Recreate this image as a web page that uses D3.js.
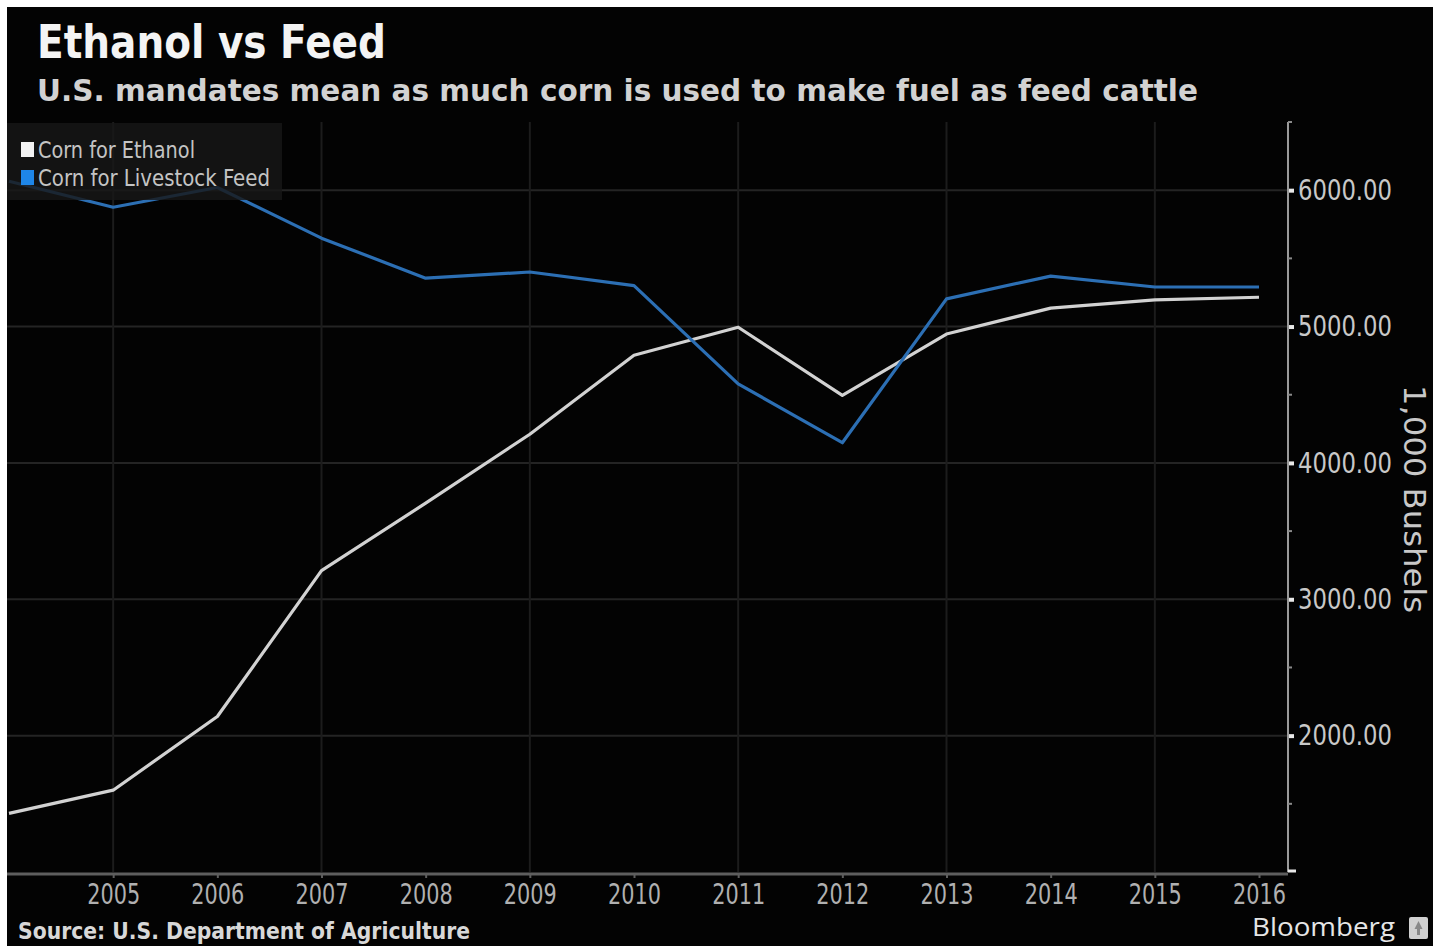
<!DOCTYPE html>
<html>
<head>
<meta charset="utf-8">
<script src="https://cdn.jsdelivr.net/npm/d3@7"></script>
<style>
  html, body { margin: 0; padding: 0; background: #fff; }
  svg { display: block; }
</style>
</head>
<body>
<svg id="chart" width="1439" height="946"></svg>
<script>
// ---- data ----
const years = [2004, 2005, 2006, 2007, 2008, 2009, 2010, 2011, 2012, 2013, 2014, 2015, 2016];
const ethanol = [1430, 1600, 2140, 3210, 3705, 4210, 4790, 4995, 4495, 4945, 5135, 5195, 5215];
const feed = [6065, 5875, 6020, 5648, 5355, 5400, 5300, 4580, 4148, 5203, 5370, 5290, 5290];
const seriesNames = ["Corn for Ethanol", "Corn for Livestock Feed"];
const seriesColors = ["#d2d2d2", "#2c6fb4"];
const legendColors = ["#f2f2f2", "#1e86e8"];
const yTicks = [2000, 3000, 4000, 5000, 6000];
const yMinorTicks = [1500, 2500, 3500, 4500, 5500, 6500];
const xTicks = [2005, 2006, 2007, 2008, 2009, 2010, 2011, 2012, 2013, 2014, 2015, 2016];
const xGridYears = [2005, 2007, 2009, 2011, 2013, 2015];
const titleText = "Ethanol vs Feed";
const subtitleText = "U.S. mandates mean as much corn is used to make fuel as feed cattle";
const sourceText = "Source: U.S. Department of Agriculture";
const yAxisTitle = "1,000 Bushels";

const svg = d3.select("#chart");
const narrow = "'Liberation Sans Narrow', 'DejaVu Sans Condensed', 'Arial Narrow', sans-serif";
const bold = "'DejaVu Sans', Verdana, sans-serif";

// background: white frame + black panel
svg.append("rect").attr("x", 7).attr("y", 7).attr("width", 1426).attr("height", 939).attr("fill", "#030303");

const x = d3.scaleLinear().domain([2004, 2016]).range([9, 1259]);
const y = d3.scaleLinear().domain([1000, 6500]).range([872, 122]);
const plotLeft = 7, plotRight = 1288;

const g = svg.append("g");

// horizontal grid
g.append("g").selectAll("line").data(yTicks).join("line")
  .attr("x1", plotLeft).attr("x2", plotRight)
  .attr("y1", d => y(d)).attr("y2", d => y(d))
  .attr("stroke", "#242424").attr("stroke-width", 2);

// vertical grid
g.append("g").selectAll("line").data(xGridYears).join("line")
  .attr("x1", d => x(d)).attr("x2", d => x(d))
  .attr("y1", 122).attr("y2", 872)
  .attr("stroke", "#1c1c1c").attr("stroke-width", 2);

// x axis
const xAxis = d3.axisBottom(x).tickValues(xTicks).tickFormat(d3.format("d")).tickSize(4).tickPadding(5);
const xg = g.append("g").attr("transform", "translate(0,874)").call(xAxis);
xg.select(".domain").remove();
xg.append("line").attr("x1", plotLeft).attr("x2", plotRight).attr("y1", 0).attr("y2", 0)
  .attr("stroke", "#5e5e5e").attr("stroke-width", 3);
xg.selectAll(".tick line").attr("stroke", "#5e5e5e").attr("stroke-width", 2);
xg.selectAll(".tick text").attr("fill", "#b0b0b0").attr("font-family", narrow)
  .attr("font-size", 29).attr("dy", "0.72em")
  .attr("textLength", 53).attr("lengthAdjust", "spacingAndGlyphs");

// y axis (right)
const yAxis = d3.axisRight(y).tickValues(yTicks).tickFormat(d3.format(".2f")).tickSize(6).tickPadding(4);
const yg = g.append("g").attr("transform", `translate(${plotRight},0)`).call(yAxis);
yg.select(".domain").remove();
yg.append("line").attr("x1", 0).attr("x2", 0).attr("y1", 122).attr("y2", 872)
  .attr("stroke", "#9a9a9a").attr("stroke-width", 2);
yg.selectAll(".tick line").attr("stroke", "#e8e8e8").attr("stroke-width", 4);
yg.selectAll(".tick text").attr("fill", "#c8c8c8").attr("font-family", narrow).attr("font-size", 29)
  .attr("textLength", 94).attr("lengthAdjust", "spacingAndGlyphs");
yg.append("g").selectAll("line").data(yMinorTicks).join("line")
  .attr("x1", 0).attr("x2", 4).attr("y1", d => y(d)).attr("y2", d => y(d))
  .attr("stroke", "#8a8a8a").attr("stroke-width", 2);
yg.append("line").attr("x1", 0).attr("x2", 8).attr("y1", 871).attr("y2", 871)
  .attr("stroke", "#e8e8e8").attr("stroke-width", 3);

// y axis title
svg.append("text").attr("transform", `translate(1404,499) rotate(90)`)
  .attr("text-anchor", "middle").attr("fill", "#c8c8c8")
  .attr("font-family", narrow).attr("font-size", 30)
  .attr("textLength", 228).attr("lengthAdjust", "spacingAndGlyphs")
  .text(yAxisTitle);

// lines
const line = d3.line().x((d, i) => x(years[i])).y(d => y(d));
[ethanol, feed].forEach((vals, k) => {
  g.append("path").datum(vals).attr("d", line)
    .attr("fill", "none").attr("stroke", seriesColors[k]).attr("stroke-width", 3.2)
    .attr("stroke-linejoin", "round");
});

// legend
const legendWidths = [157, 232];
const lg = svg.append("g");
lg.append("rect").attr("x", 7).attr("y", 123).attr("width", 275).attr("height", 77)
  .attr("fill", "#171717").attr("opacity", 0.82);
seriesNames.forEach((name, i) => {
  lg.append("rect").attr("x", 21).attr("y", 142 + i * 28).attr("width", 13).attr("height", 15)
    .attr("fill", legendColors[i]);
  lg.append("text").attr("x", 38).attr("y", 158 + i * 28).attr("fill", "#c4c4c4")
    .attr("font-family", narrow).attr("font-size", 23)
    .attr("textLength", legendWidths[i]).attr("lengthAdjust", "spacingAndGlyphs")
    .text(name);
});

// titles
svg.append("text").attr("x", 37).attr("y", 58).attr("fill", "#f4f4f4")
  .attr("font-family", bold).attr("font-weight", "bold").attr("font-size", 47)
  .attr("textLength", 349).attr("lengthAdjust", "spacingAndGlyphs").text(titleText);
svg.append("text").attr("x", 37).attr("y", 101).attr("fill", "#d2d2d2")
  .attr("font-family", bold).attr("font-weight", "bold").attr("font-size", 30)
  .attr("textLength", 1161).attr("lengthAdjust", "spacingAndGlyphs").text(subtitleText);

// source
svg.append("text").attr("x", 18).attr("y", 939).attr("fill", "#d8d8d8")
  .attr("font-family", bold).attr("font-weight", "bold").attr("font-size", 23)
  .attr("textLength", 452).attr("lengthAdjust", "spacingAndGlyphs").text(sourceText);

// Bloomberg mark
svg.append("text").attr("x", 1252).attr("y", 936).attr("fill", "#e6e6e6")
  .attr("font-family", "'Open Sans', 'DejaVu Sans', sans-serif").attr("font-size", 26)
  .attr("textLength", 143).attr("lengthAdjust", "spacingAndGlyphs").text("Bloomberg");
svg.append("rect").attr("x", 1409).attr("y", 917).attr("width", 19).attr("height", 22)
  .attr("rx", 2).attr("fill", "#d0d0d0");
svg.append("path").attr("d", "M1418.5,921 l4,8 h-8 z M1417,929 h3 v6 h-3 z").attr("fill", "#888");
</script>
</body>
</html>
